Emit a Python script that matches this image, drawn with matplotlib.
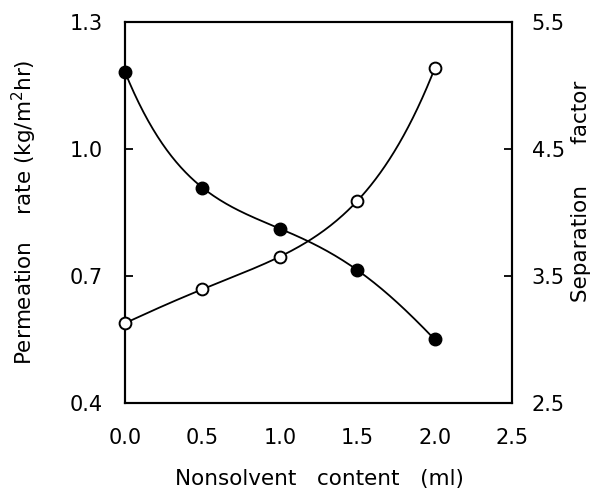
import numpy as np
import matplotlib
matplotlib.use("Agg")
import matplotlib.pyplot as plt

nonsolvent = [0.0, 0.5, 1.0, 1.5, 2.0]
permeation = [1.183, 0.909, 0.812, 0.714, 0.550]
separation = [3.128, 3.395, 3.652, 4.091, 5.135]

x_ticks = [0.0, 0.5, 1.0, 1.5, 2.0, 2.5]
x_labels = ['0.0', '0.5', '1.0', '1.5', '2.0', '2.5']
left_ticks = [0.4, 0.7, 1.0, 1.3]
right_ticks = [2.5, 3.5, 4.5, 5.5]


def smooth(x, y, n=200):
    # smooth drawing curve passing through the measured points
    coef = np.polyfit(x, y, len(x) - 1)
    xs = np.linspace(min(x), max(x), n)
    return xs, np.polyval(coef, xs)


plt.rcParams['font.family'] = ['DejaVu Sans']

fig = plt.figure(figsize=(6.09, 5.03), dpi=100)
ax = fig.add_axes([0.205, 0.199, 0.636, 0.757])
ax2 = ax.twinx()

xs, ys = smooth(nonsolvent, permeation)
ax.plot(xs, ys, color='black', lw=1.3, clip_on=False)
ax.plot(nonsolvent, permeation, 'o', color='black', ms=9, clip_on=False, zorder=5)

xs, ys = smooth(nonsolvent, separation)
ax2.plot(xs, ys, color='black', lw=1.3, clip_on=False)
ax2.plot(nonsolvent, separation, 'o', mfc='white', mec='black', mew=1.4,
         ms=8.5, clip_on=False, zorder=5)

ax.set_xlim(0, 2.5)
ax.set_ylim(0.4, 1.3)
ax2.set_ylim(2.5, 5.5)

ax.set_xticks(x_ticks)
ax.set_xticklabels(x_labels)
ax.set_yticks(left_ticks)
ax2.set_yticks(right_ticks)

ax.tick_params(axis='x', length=0, pad=18, labelsize=15)
ax.tick_params(axis='y', direction='in', length=6, width=1.3, pad=16, labelsize=15)
ax2.tick_params(axis='y', direction='in', length=6, width=1.3, pad=14, labelsize=15)
for a in (ax, ax2):
    for s in a.spines.values():
        s.set_linewidth(1.5)

fig.text(0.525, 0.048, 'Nonsolvent   content   (ml)', fontsize=15.5,
         ha='center', va='center')
fig.text(0.040, 0.578, 'Permeation    rate (kg/m$^2$hr)', fontsize=15.5,
         rotation=90, ha='center', va='center')
fig.text(0.954, 0.620, 'Separation      factor', fontsize=15.5,
         rotation=90, ha='center', va='center')

fig.savefig('out.png', dpi=100)
